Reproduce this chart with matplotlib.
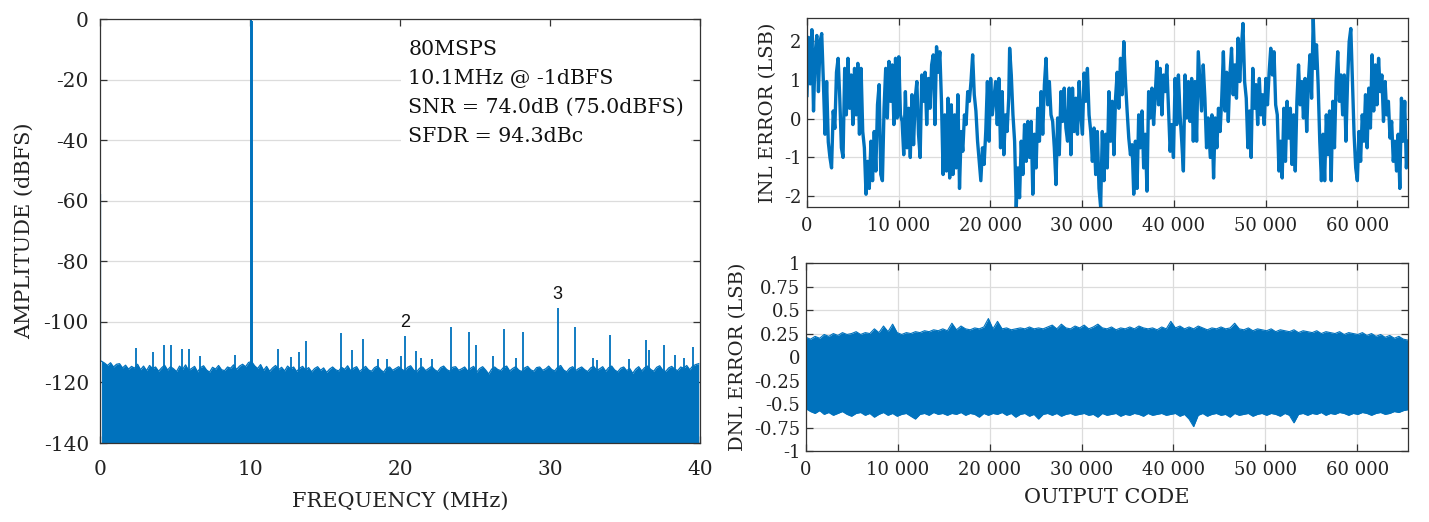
import numpy as np
import matplotlib
matplotlib.use("Agg")
import matplotlib.pyplot as plt
from matplotlib.ticker import FuncFormatter

BLUE = "#0072BD"
AXC = "#333333"
GRIDC = "#dcdcdc"
TXT = "#222222"

# ---------------- FFT data ----------------
noise_freq_start, noise_freq_end = 0.1, 39.9
noise_db = [
    -113.0, -113.6, -114.4, -113.5, -114.9, -114.0, -113.8, -115.2, -114.3, -115.6,
    -114.7, -115.3, -114.0, -115.8, -114.6, -116.1, -114.4, -115.4, -114.9, -116.3,
    -115.2, -114.3, -115.9, -114.8, -115.5, -116.4, -114.6, -115.7, -114.2, -116.0,
    -115.4, -114.7, -116.5, -115.1, -114.5, -115.9, -116.6, -115.0, -115.6, -114.4,
    -115.8, -116.1, -114.9, -115.3, -114.2, -115.7, -114.6, -114.0, -114.8, -113.4,
    -113.1, -114.5, -115.4, -114.1, -116.0, -114.7, -116.3, -115.2, -114.4, -115.8,
    -115.0, -116.2, -114.6, -115.5, -114.9, -116.4, -115.3, -114.7, -115.9, -115.1,
    -116.5, -115.4, -114.8, -116.0, -115.2, -116.7, -115.6, -114.9, -115.8, -116.2,
    -115.0, -115.7, -114.5, -116.1, -115.3, -114.8, -116.4, -115.5, -114.7, -115.9,
    -116.3, -115.1, -114.6, -115.8, -116.6, -115.2, -114.9, -116.0, -115.4, -114.8,
    -115.6, -116.2, -115.0, -114.5, -115.9, -116.5, -115.3, -114.9, -116.1, -115.4,
    -114.7, -115.8, -116.4, -115.1, -114.6, -115.7, -116.3, -115.0, -114.8, -116.0,
    -115.5, -114.9, -116.2, -115.3, -114.7, -116.6, -115.4, -114.8, -115.9, -117.2,
    -115.6, -114.9, -115.7, -116.1, -115.0, -114.6, -116.2, -115.4, -114.8, -115.9,
    -116.4, -115.2, -114.7, -115.8, -116.3, -115.1, -114.9, -116.0, -115.5, -114.6,
    -115.7, -116.2, -115.0, -114.4, -115.9, -116.5, -115.3, -114.8, -116.1, -115.4,
    -114.9, -115.8, -116.4, -115.2, -114.7, -116.0, -115.5, -114.8, -116.3, -115.1,
    -114.6, -115.9, -116.5, -115.3, -114.9, -116.1, -115.4, -117.0, -115.6, -114.8,
    -116.2, -115.1, -114.6, -115.7, -116.3, -115.0, -114.5, -115.9, -116.4, -115.2,
    -114.7, -115.6, -116.1, -114.9, -115.3, -114.4, -115.8, -114.6, -114.1, -113.8,
]
spur_freq = [2.42, 3.56, 4.29, 4.74, 5.47, 5.92, 6.65, 9.0, 11.84, 12.75, 13.23,
             13.75, 16.07, 16.8, 17.52, 18.5, 19.1, 20.05, 20.33, 21.09, 21.4,
             22.1, 23.41, 24.56, 25.05, 26.2, 26.95, 27.7, 28.16, 30.51, 31.66,
             32.84, 33.1, 34.0, 35.23, 36.4, 36.6, 37.58, 38.34, 38.9, 39.49]
spur_db = [-108.6, -110.0, -107.7, -107.7, -108.9, -108.9, -111.3, -111.1, -108.9,
           -111.5, -110.0, -106.3, -103.8, -109.4, -105.8, -112.4, -112.3, -111.2,
           -104.5, -109.6, -112.0, -112.3, -101.8, -103.4, -107.8, -111.2, -102.2,
           -111.8, -103.4, -95.3, -101.6, -111.8, -112.5, -104.2, -112.2, -106.0,
           -109.3, -107.8, -111.1, -112.0, -108.3]
fund_freq = [10.08, 10.13]
fund_db = [0.0, -0.8]
dc_freq = [0.03]
dc_db = [-57.9]
harm_labels = ["2", "3"]
harm_freq = [20.33, 30.51]
harm_db = [-104.5, -95.3]
info_text = ["80MSPS", "10.1MHz @ -1dBFS", "SNR = 74.0dB (75.0dBFS)", "SFDR = 94.3dBc"]

# ---------------- INL data (LSB) ----------------
inl_seg1_range = (0, 22000)
inl_seg1 = [0.6, 2.1, 0.9, 2.3, 0.2, 1.7, 2.15, 0.7, 2.0, 2.2, 0.96, -0.4, 0.96, -0.6, -1.0,
            -1.27, 0.2, -0.25, 1.2, 1.56, 0.53, -0.75, -1.0, 1.3, 0.1, 1.56, 0.27, 1.13, -0.15,
            1.3, 0.1, 1.43, -0.4, 1.3, -0.33, -0.75, -1.95, -1.1, -1.8, -0.58, -1.6, -0.33,
            -1.35, 0.36, 0.88, -1.44, -1.6, 0.27, 1.3, 0.02, 1.48, 0.45, 1.39, -0.15, 1.56,
            0.02, 1.6, 0.1, -0.07, -0.93, 0.7, -0.75, 0.27, -1.0, 0.62, -0.67, 0.53, 0.96,
            -0.4, -1.0, 1.13, 0.45, 1.2, -0.15, 1.04, 0.27, 1.39, 1.65, -0.15, 1.86, 1.2, 1.73,
            0.45, -1.44, 0.1, -1.35, 0.53, -1.53, 0.36, -1.44, 0.1, -1.27, 0.62, -1.8, -0.33,
            -0.84, 0.1, -0.15, 0.7, 0.45, 0.96, 1.65, 0.62, 0.2, -0.58, -1.1, -1.6, -0.75,
            -1.18, -0.33, 0.96, -0.58, 1.04, 0.1, 0.53, 0.96, -0.15, 1.04, -0.75, 0.7, -0.93,
            0.1, -0.33, 0.53]
inl_seg2_range = (22100, 43750)
inl_seg2 = [1.82, 1.13, 0.1, -0.58, -2.28, -1.27, -2.04, -0.58, -1.44, -0.15, -1.1, -0.07,
            -1.0, -0.07, -1.95, -0.4, -1.27, 0.27, -0.58, 0.7, -0.4, 0.88, 1.56, 0.36, 0.96,
            0.1, -0.07, -0.75, -1.7, 0.02, -0.93, 0.7, -0.07, 0.79, -0.24, -0.58, 0.79, -0.93,
            0.79, -0.33, 0.53, -0.4, 0.96, 0.1, -0.4, 1.18, 0.45, 1.3, 0.1, -0.33, -1.1, -0.24,
            -1.44, -0.33, -1.8, -2.28, -0.33, -1.6, -0.4, -1.27, 0.7, -0.58, 0.45, -0.93, 0.53,
            1.2, 0.27, 1.56, 0.62, 1.99, 0.96, 0.2, -0.5, -0.93, -0.67, -1.95, -0.58, -1.8, 0.1,
            -0.75, 0.2, -1.27, -0.4, -1.87, 0.7, 0.02, 0.79, -0.15, 0.62, 1.48, 0.36, 1.3, 0.1,
            1.13, 0.7, 1.39, 0.27, -0.84, -0.15, -1.0, 1.04, -0.15, 1.13, 0.1, -0.58, -1.35,
            1.13, 0.02, 0.96, -0.07, 1.04, -0.58, 0.96, -0.58, 1.73, 0.96, 0.2, 1.39, 0.53,
            -0.75, 0.02]
inl_seg3_range = (43980, 65535)
inl_seg3 = [-1.0, 0.1, -1.53, 0.02, -0.75, 0.27, -0.33, 0.53, 1.73, 0.2, 1.2, -0.07, 1.13,
            1.82, 0.62, 1.39, 0.53, 2.08, 0.96, 1.82, 2.46, 0.96, 0.53, -0.75, 0.2, -1.0, 1.3,
            0.27, 0.88, -0.15, 1.04, 0.1, 0.62, -0.15, 1.04, 0.36, 1.2, 1.82, 1.13, 1.73, 0.36,
            0.1, -1.35, -0.58, -1.53, 0.27, -1.1, 0.45, -0.5, 0.27, -1.18, 0.1, -1.35, 0.45,
            1.39, 0.36, 0.96, 0.02, 1.04, -0.33, 0.96, 1.65, 0.53, 2.6, 1.3, 1.91, 0.88, -0.58,
            -1.6, -0.4, -1.6, 0.1, -0.93, 0.2, -1.6, 0.45, -0.75, 0.96, 1.73, 0.45, 1.13, 0.1,
            1.13, -0.58, 0.96, 1.99, 2.33, 0.96, -0.4, -1.27, -1.6, -0.33, -1.1, 0.1, -0.58,
            0.62, -0.75, 0.79, -0.24, 1.65, 0.2, 1.39, 0.36, 1.56, 0.7, 1.13, -0.07, 0.96, 0.1,
            0.45, -0.5, -0.07, -1.1, -0.58, -1.35, -0.4, -1.8, 0.53, -0.58, 0.45, -1.27, -0.58]

# ---------------- DNL data (LSB), envelope every 500 codes ----------------
dnl_range = (0, 65535)
dnl_upper = [
    0.21, 0.19, 0.22, 0.20, 0.24, 0.22, 0.25, 0.23, 0.26, 0.24, 0.25, 0.27, 0.24, 0.26, 0.25, 0.30, 0.26, 0.33, 0.27, 0.35, 0.26,
    0.24, 0.26, 0.25, 0.27, 0.26, 0.28, 0.27, 0.29, 0.28, 0.30, 0.28, 0.36, 0.29, 0.33, 0.30, 0.29, 0.31, 0.30, 0.32, 0.41,
    0.30, 0.38, 0.30, 0.31, 0.29, 0.30, 0.31, 0.30, 0.32, 0.30, 0.31, 0.30, 0.32, 0.34, 0.30, 0.35, 0.31, 0.30, 0.33, 0.31,
    0.34, 0.30, 0.32, 0.35, 0.31, 0.30, 0.32, 0.29, 0.31, 0.30, 0.32, 0.30, 0.33, 0.31, 0.30, 0.31, 0.29, 0.32, 0.30, 0.38,
    0.31, 0.33, 0.30, 0.32, 0.30, 0.33, 0.31, 0.29, 0.31, 0.30, 0.32, 0.30, 0.31, 0.36, 0.30, 0.29, 0.31, 0.28, 0.30, 0.29,
    0.28, 0.30, 0.27, 0.29, 0.28, 0.27, 0.29, 0.26, 0.28, 0.27, 0.26, 0.28, 0.25, 0.27, 0.26, 0.25, 0.27, 0.24, 0.26, 0.25,
    0.24, 0.26, 0.23, 0.25, 0.22, 0.24, 0.21, 0.23, 0.20, 0.22, 0.19, 0.18]
dnl_lower = [
    -0.55, -0.58, -0.60, -0.57, -0.61, -0.59, -0.62, -0.60, -0.58, -0.61, -0.63, -0.60, -0.59, -0.62, -0.60, -0.64, -0.61, -0.59, -0.62, -0.60, -0.63,
    -0.61, -0.60, -0.63, -0.66, -0.61, -0.60, -0.62, -0.59, -0.61, -0.60, -0.62, -0.60, -0.61, -0.59, -0.62, -0.60, -0.61, -0.64, -0.60, -0.62,
    -0.60, -0.61, -0.59, -0.62, -0.60, -0.64, -0.61, -0.60, -0.63, -0.61, -0.66, -0.61, -0.60, -0.62, -0.60, -0.63, -0.61, -0.60, -0.62, -0.61,
    -0.60, -0.62, -0.61, -0.64, -0.60, -0.62, -0.61, -0.60, -0.63, -0.61, -0.62, -0.60, -0.61, -0.63, -0.60, -0.62, -0.61, -0.60, -0.62, -0.61,
    -0.60, -0.63, -0.61, -0.66, -0.74, -0.62, -0.60, -0.63, -0.61, -0.60, -0.62, -0.61, -0.64, -0.60, -0.62, -0.61, -0.60, -0.63, -0.61, -0.60,
    -0.62, -0.60, -0.61, -0.63, -0.60, -0.62, -0.70, -0.61, -0.60, -0.62, -0.60, -0.61, -0.59, -0.62, -0.60, -0.61, -0.59, -0.60, -0.62, -0.60,
    -0.61, -0.59, -0.60, -0.62, -0.60, -0.59, -0.61, -0.60, -0.58, -0.59, -0.57, -0.56]

# ---------------- figure ----------------
plt.rcParams["font.family"] = ["DejaVu Serif", "DejaVu Sans"]
plt.rcParams["axes.unicode_minus"] = False
fig = plt.figure(figsize=(14.29, 5.22), dpi=100)
ax1 = fig.add_axes([0.070, 0.1513, 0.420, 0.8123])
ax2 = fig.add_axes([0.5647, 0.6034, 0.4206, 0.362])
ax3 = fig.add_axes([0.5640, 0.1360, 0.4213, 0.360])


def style(ax, fs, xpad, ypad):
    for s in ax.spines.values():
        s.set_color(AXC)
        s.set_linewidth(0.9)
        s.set_zorder(6)
    ax.tick_params(direction="in", length=5, width=0.9, color=AXC, labelcolor=TXT,
                   top=True, right=True, labelsize=fs)
    ax.tick_params(axis="x", pad=xpad)
    ax.tick_params(axis="y", pad=ypad)
    ax.set_axisbelow(True)


# FFT
nf = np.linspace(noise_freq_start, noise_freq_end, len(noise_db))
ax1.fill_between(nf, -140, noise_db, color=BLUE, lw=0)
ax1.plot(nf, noise_db, color=BLUE, lw=0.9)
ax1.vlines(spur_freq, -140, spur_db, color=BLUE, lw=1.3)
ax1.vlines(fund_freq, -140, fund_db, color=BLUE, lw=1.4)
ax1.vlines(dc_freq, -140, dc_db, color=BLUE, lw=1.6)
ax1.set_xlim(0, 40)
ax1.set_ylim(-140, 0)
ax1.set_xticks(np.arange(0, 41, 10))
ax1.set_yticks(np.arange(-140, 1, 20))
ax1.yaxis.grid(True, color=GRIDC, lw=0.9)
style(ax1, 14.5, 12, 8)
ax1.set_xlabel("FREQUENCY (MHz)", fontsize=15, color=TXT)
ax1.set_ylabel("AMPLITUDE (dBFS)", fontsize=15, color=TXT)
ax1.xaxis.set_label_coords(0.5, -0.116)
ax1.yaxis.set_label_coords(-0.11, 0.5)
for lab, f, d in zip(harm_labels, harm_freq, harm_db):
    ax1.text(f, d + 1.5, lab, ha="center", va="bottom", fontsize=13,
             family="Liberation Sans", color="#111111")
ax1.text(20.55, -6.9, "\n".join(info_text), ha="left", va="top", fontsize=14.8,
         linespacing=1.66, color="#111111", zorder=4,
         bbox=dict(facecolor="white", edgecolor="none", pad=5))

# INL
codes1 = np.linspace(*inl_seg1_range, len(inl_seg1))
codes2 = np.linspace(*inl_seg2_range, len(inl_seg2))
codes3 = np.linspace(*inl_seg3_range, len(inl_seg3))
inl_codes = np.concatenate([codes1, codes2, codes3])
inl_vals = np.concatenate([inl_seg1, inl_seg2, inl_seg3])
ax2.plot(inl_codes, inl_vals, color=BLUE, lw=2.4)
ax2.set_xlim(0, 65535)
ax2.set_ylim(-2.28, 2.6)
ax2.set_yticks([-2, -1, 0, 1, 2])
ax2.set_xticks(np.arange(0, 60001, 10000))
ax2.grid(True, color=GRIDC, lw=0.9)
thousands = FuncFormatter(lambda v, p: f"{int(v):,}".replace(",", " "))
ax2.xaxis.set_major_formatter(thousands)
style(ax2, 13, 7, 4)
ax2.set_ylabel("INL ERROR (LSB)", fontsize=14, color=TXT)
ax2.yaxis.set_label_coords(-0.05, 0.5)

# DNL
dc = np.linspace(*dnl_range, len(dnl_upper))
ax3.fill_between(dc, dnl_lower, dnl_upper, color=BLUE, lw=0)
ax3.plot(dc, dnl_upper, color=BLUE, lw=0.8)
ax3.plot(dc, dnl_lower, color=BLUE, lw=0.8)
ax3.set_xlim(0, 65535)
ax3.set_ylim(-1, 1)
ax3.set_yticks([-1, -0.75, -0.5, -0.25, 0, 0.25, 0.5, 0.75, 1])
ax3.yaxis.set_major_formatter(FuncFormatter(lambda v, p: f"{v:g}"))
ax3.set_xticks(np.arange(0, 60001, 10000))
ax3.xaxis.set_major_formatter(thousands)
ax3.grid(True, color=GRIDC, lw=0.9)
style(ax3, 13, 7, 4)
ax3.set_ylabel("DNL ERROR (LSB)", fontsize=14, color=TXT)
ax3.set_xlabel("OUTPUT CODE", fontsize=15, color=TXT)
ax3.yaxis.set_label_coords(-0.098, 0.5)
ax3.xaxis.set_label_coords(0.5, -0.197)

fig.savefig("out.png", dpi=100)
